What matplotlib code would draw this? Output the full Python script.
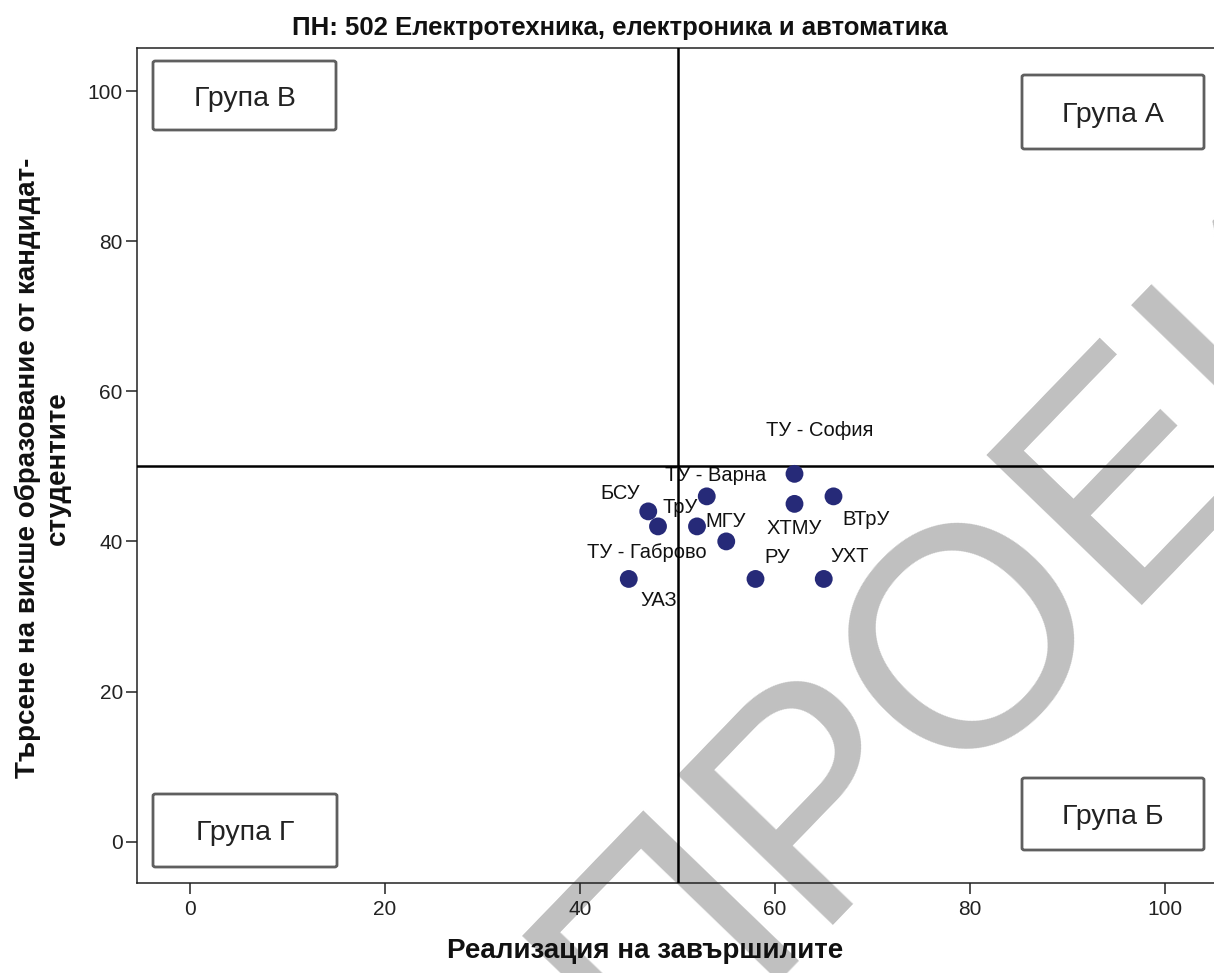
import matplotlib
matplotlib.use('Agg')
import matplotlib.pyplot as plt
from matplotlib.patches import FancyBboxPatch

# ---------------- data ----------------
title = 'ПН: 502 Електротехника, електроника и автоматика'
x_label = 'Реализация на завършилите'
y_label = 'Търсене на висше образование от кандидат-\nстудентите'

universities = ['ТУ - София', 'ТУ - Варна', 'ВТрУ', 'ХТМУ', 'БСУ', 'ТрУ',
                'МГУ', 'ТУ - Габрово', 'УАЗ', 'РУ', 'УХТ']
realization = [62, 53, 66, 62, 47, 48, 52, 55, 45, 58, 65]   # x
demand = [49, 46, 46, 45, 44, 42, 42, 40, 35, 35, 35]        # y

x_ticks = [0, 20, 40, 60, 80, 100]
y_ticks = [0, 20, 40, 60, 80, 100]
threshold_x = 50
threshold_y = 50

group_names = ['Група А', 'Група Б', 'Група В', 'Група Г']
watermark = 'ПРОЕКТ'

# ---------------- layout / style ----------------
W, H, DPI = 1214, 973, 100
# label offsets (pixels, x right / y up) relative to each point
label_offsets = [(25, 45), (9, 23), (33, -21), (0, -23), (-28, 20), (22, 21),
                 (29, 7), (-79, -9), (30, -20), (22, 23), (26, 24)]
# group boxes in image pixels: (left, top, right, bottom)
group_boxes = [(1022, 75, 1204, 149), (1022, 778, 1204, 850),
               (153, 61, 336, 130), (153, 794, 337, 867)]

FONT = ['Liberation Sans', 'DejaVu Sans']
plt.rcParams['font.family'] = FONT

fig = plt.figure(figsize=(W / DPI, H / DPI), dpi=DPI)


def fx(px):
    return px / W


def fy(py):
    return 1 - py / H


ax_left, ax_top, ax_right, ax_bottom = 136.7, 48.3, 1218.6, 883.3
ax = fig.add_axes([fx(ax_left), fy(ax_bottom), (ax_right - ax_left) / W,
                   (ax_bottom - ax_top) / H])
ax.patch.set_alpha(0)
ax.set_xlim(-5.47, 105.5)
ax.set_ylim(-5.545, 105.69)

for s in ['left', 'bottom', 'top']:
    ax.spines[s].set_color('#222222')
    ax.spines[s].set_linewidth(1.1)
ax.spines['right'].set_visible(False)

ax.set_xticks(x_ticks)
ax.set_yticks(y_ticks)
ax.tick_params(direction='out', length=8, width=1.1, color='#222222',
               labelsize=15, labelcolor='#222222')
ax.tick_params(axis='y', pad=2)
ax.tick_params(axis='x', pad=4)

# quadrant lines
ax.axvline(threshold_x, color='black', lw=1.8, zorder=3)
ax.axhline(threshold_y, color='black', lw=1.8, zorder=3)

# points
ax.scatter(realization, demand, s=165, color='#262A78', edgecolors='none',
           zorder=4)
for name, xv, yv, off in zip(universities, realization, demand, label_offsets):
    ax.annotate(name, (xv, yv), xytext=off, textcoords='offset pixels',
                ha='center', va='center_baseline', fontsize=14.5,
                color='#111111', zorder=2)

# group boxes
for i in range(len(group_names)):
    l, t, r, b = group_boxes[i]
    patch = FancyBboxPatch((fx(l), fy(b)), fx(r) - fx(l), fy(t) - fy(b),
                           boxstyle='round,pad=0,rounding_size=0.002',
                           transform=fig.transFigure, facecolor='white',
                           edgecolor='#5f5f5f', lw=2.0, zorder=5)
    fig.add_artist(patch)
    fig.text(fx((l + r) / 2), fy((t + b) / 2), group_names[i], ha='center',
             va='center_baseline', fontsize=20.5, color='#222222', zorder=6)

# titles
fig.text(fx(620), fy(26), title, ha='center', va='center_baseline',
         fontsize=18.5, weight='bold', color='#111111')
fig.text(fx(645), fy(948), x_label, ha='center', va='center_baseline',
         fontsize=20, weight='bold', color='#111111')
fig.text(fx(42.5), fy(468), y_label, ha='center', va='center', rotation=90,
         multialignment='center', linespacing=1.2, fontsize=20,
         weight='bold', color='#111111')

# watermark
fig.text(fx(1087), fy(636), watermark, ha='center', va='baseline',
         rotation=46, rotation_mode='anchor', fontsize=225, color='#c0c0c0',
         zorder=-1)

fig.savefig('out.png', dpi=DPI)
